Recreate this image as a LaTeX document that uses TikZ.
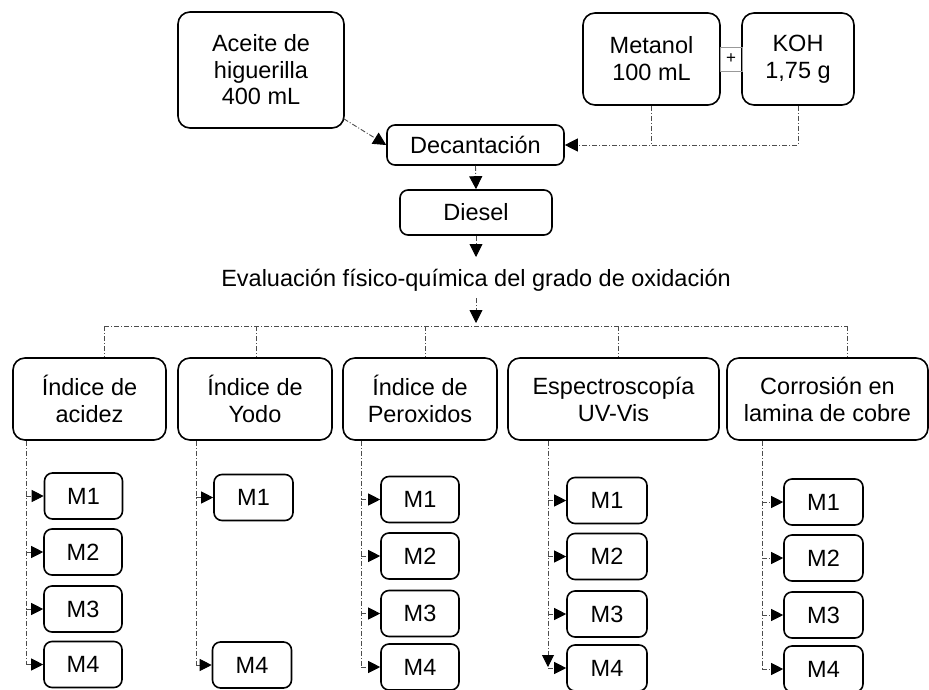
\documentclass[tikz,border=0pt]{standalone}
\usepackage{fontspec}
\setmainfont{Liberation Sans}
\usetikzlibrary{arrows.meta}
\newcommand{\boxfont}{\fontsize{23.5}{27}\selectfont}
\newcommand{\tightfont}{\fontsize{23.5}{26.5}\selectfont}
\newcommand{\smallfont}{\fontsize{17}{18}\selectfont}
\tikzset{
  bigbox/.style={draw, line width=1.6pt, rounded corners=12pt, align=center,
    inner sep=0pt, font=\boxfont},
  mbox/.style={draw, line width=1.6pt, rounded corners=8pt, align=center,
    inner sep=0pt, font=\boxfont, minimum width=79pt, minimum height=46pt},
  flow/.style={draw=black!70, line width=0.9pt,
    dash pattern=on 5pt off 2pt on 1pt off 2pt},
  tip/.style={-{Triangle[length=13pt,width=13pt,color=black]}},
  stip/.style={-{Triangle[length=12pt,width=12pt,color=black]}}
}
\begin{document}
\begin{tikzpicture}[x=1pt,y=-1pt]
\useasboundingbox (0,0) rectangle (929,689);

% reagents
\node[bigbox, font=\tightfont, minimum width=166pt, minimum height=116pt] (aceite) at (261,70)
  {Aceite de\\higuerilla\\400 mL};
\node[bigbox, minimum width=137pt, minimum height=92pt] (metanol) at (651.5,59)
  {Metanol\\100 mL};
\node[bigbox, minimum width=112pt, minimum height=92pt] (koh) at (798,59)
  {KOH\\1,75 g};
\node[draw=black!40, line width=0.6pt, minimum width=22pt, minimum height=24pt,
  inner sep=0pt, font=\smallfont] (plus) at (731,59) {+};

% process
\node[bigbox, rounded corners=8pt, minimum width=177pt, minimum height=40pt] (dec) at (475.5,145) {Decantación};
\node[bigbox, rounded corners=8pt, minimum width=152pt, minimum height=45pt] (diesel) at (476,212.5) {Diesel};
\coordinate (dieselout) at (476,257);
\node[font=\boxfont, inner sep=0pt] (eval) at (476,280)
  {Evaluación físico-química del grado de oxidación};
\coordinate (evalout) at (476,298);
\coordinate (busin) at (476,323);

% analyses
\node[bigbox, minimum width=153pt, minimum height=82pt] (acid) at (89.5,399) {Índice de\\acidez};
\node[bigbox, minimum width=154pt, minimum height=82pt] (yodo) at (255,399) {Índice de\\Yodo};
\node[bigbox, minimum width=154pt, minimum height=82pt] (perox) at (420,399) {Índice de\\Peroxidos};
\node[bigbox, minimum width=211pt, minimum height=82pt] (uv) at (613.5,399) {Espectroscopía\\UV-Vis};
\node[bigbox, minimum width=201pt, minimum height=82pt] (corr) at (827.5,399) {Corrosión en\\lamina de cobre};

% samples
\node[mbox, minimum width=78pt] (a1) at (83.5,496) {M1};
\node[mbox, minimum width=78pt] (a2) at (83,552) {M2};
\node[mbox, minimum width=78pt] (a3) at (83,609) {M3};
\node[mbox, minimum width=78pt] (a4) at (83,664.5) {M4};

\node[mbox] (y1) at (253.5,497.5) {M1};
\node[mbox] (y4) at (252,665) {M4};

\node[mbox, minimum width=78pt] (p1) at (420,499.5) {M1};
\node[mbox, minimum width=78pt] (p2) at (420,556) {M2};
\node[mbox, minimum width=78pt] (p3) at (420,613.5) {M3};
\node[mbox, minimum width=78pt] (p4) at (420,667) {M4};

\node[mbox, minimum width=80pt] (u1) at (607,500.5) {M1};
\node[mbox, minimum width=80pt] (u2) at (607,556.5) {M2};
\node[mbox, minimum width=80pt] (u3) at (607,614) {M3};
\node[mbox, minimum width=80pt] (u4) at (607,668) {M4};

\node[mbox] (c1) at (823.5,502) {M1};
\node[mbox] (c2) at (823.5,558) {M2};
\node[mbox] (c3) at (823.5,615) {M3};
\node[mbox] (c4) at (823.5,669) {M4};

% connectors, top part
\draw[flow, tip] (aceite.south east) ++(-1,-10) -- (dec.west);
\draw[flow] (metanol.south) -- (metanol.south |- dec.east);
\draw[flow, tip] (koh.south) -- (koh.south |- dec.east) -- (dec.east);
\draw[flow, tip] (dec.south) -- (diesel.north);
\draw[flow, tip] (diesel.south) -- (dieselout);
\draw[flow, tip] (evalout) -- (busin);

% bus to the analyses
\coordinate (busl) at (104,326);
\coordinate (busr) at (847,326);
\draw[flow] (busl) -- (busr);
\foreach \x/\n in {104/acid, 256/yodo, 425/perox, 618/uv, 847/corr}
  \draw[flow] (\x,326) -- (\x,0 |- \n.north);

% columns to the samples
\foreach \x/\n/\last in {26/acid/a4, 196/yodo/y4, 361/perox/p4, 762/corr/c4}
  \draw[flow] (\x,0 |- \n.south) -- (\x,0 |- \last.west);
\draw[flow, stip] (548,0 |- uv.south) -- (548,667);

\foreach \x/\m in {26/a1, 26/a2, 26/a3, 26/a4, 196/y1, 196/y4,
                   361/p1, 361/p2, 361/p3, 361/p4,
                   548/u1, 548/u2, 548/u3, 548/u4,
                   762/c1, 762/c2, 762/c3, 762/c4}
  \draw[flow, stip] (\x,0 |- \m.west) -- (\m.west);
\end{tikzpicture}
\end{document}
